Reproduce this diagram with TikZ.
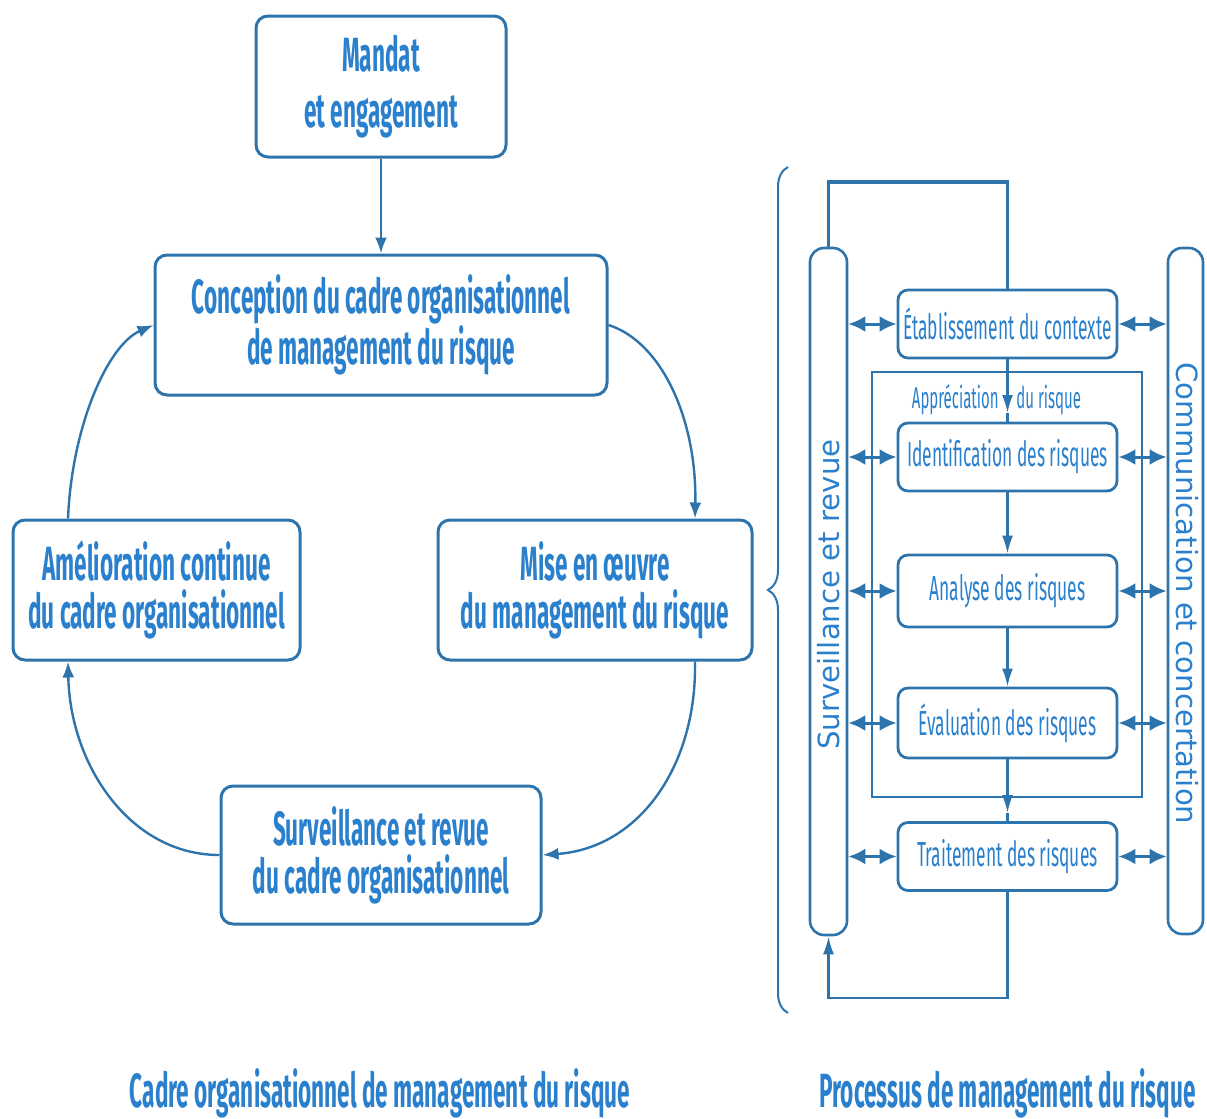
\documentclass[tikz,border=0pt]{standalone}
\usepackage{fontspec}
\setmainfont{Fira Sans}[FakeStretch=0.47]
\newfontfamily\stepfont{Fira Sans}[FakeStretch=0.5]
\newfontfamily\barfont{DejaVu Sans}
\usetikzlibrary{arrows.meta,decorations.pathreplacing,calc}
\definecolor{lineblue}{RGB}{46,116,172}
\definecolor{textblue}{RGB}{42,128,204}

\begin{document}
\begin{tikzpicture}[x=0.5pt,y=-0.5pt,
  bigbox/.style={draw=lineblue, line width=1.5pt, rounded corners=6pt, align=center,
    text=textblue, font=\bfseries\fontsize{24}{24}\selectfont, inner sep=0pt},
  stepbox/.style={draw=lineblue, line width=1.4pt, rounded corners=5pt,
    minimum width=109.5pt, minimum height=34pt, text=textblue,
    font=\stepfont\fontsize{17.4}{18}\selectfont, inner sep=0pt},
  barbox/.style={draw=lineblue, line width=1.3pt, rounded corners=7pt, inner sep=0pt},
  bartext/.style={text=textblue, font=\barfont\fontsize{14.6}{15}\selectfont, inner sep=0pt},
  smalllabel/.style={text=textblue, font=\stepfont\fontsize{15}{15}\selectfont, inner sep=0pt},
  cycle/.style={draw=lineblue, line width=1.2pt, -{Latex[length=8pt,width=6pt]}},
  flow/.style={draw=lineblue, line width=1.1pt, -{Latex[length=9pt,width=5.5pt]}},
  link/.style={draw=lineblue, line width=1.1pt},
  both/.style={draw=lineblue, line width=1.5pt,
    {Latex[length=8.5pt,width=8pt]}-{Latex[length=8.5pt,width=8pt]}},
  title/.style={text=textblue, font=\bfseries\fontsize{24}{24}\selectfont, inner sep=0pt}
]
\useasboundingbox (0,0) rectangle (1207,1119);

% ---- framework cycle ----
\node[bigbox, minimum width=125pt, minimum height=70.5pt] (mandat) at (381,86.5)
  {Mandat\\[4pt]et engagement};
\node[bigbox, minimum width=226pt, minimum height=70pt] (concep) at (381,325)
  {Conception du cadre organisationnel\\de management du risque};
\node[bigbox, minimum width=143.5pt, minimum height=70pt] (amelio) at (156.5,590)
  {Amélioration continue\\du cadre organisationnel};
\node[bigbox, minimum width=157pt, minimum height=70pt] (mise) at (595,590)
  {Mise en œuvre\\du management du risque};
\node[bigbox, minimum width=160pt, minimum height=69pt] (surv) at (381,855)
  {Surveillance et revue\\du cadre organisationnel};

\draw[cycle] (mandat.south) -- (concep.north);
\draw[cycle] (concep.east) .. controls (662,342) and (697,420) .. ($(mise.north)+(100,0)$);
\draw[cycle] ($(mise.south)+(100,0)$) .. controls (697,765) and (640,848) .. (surv.east);
\draw[cycle] (surv.west) .. controls (130,855) and (70,765) .. ($(amelio.south)+(-88.5,0)$);
\draw[cycle] ($(amelio.north)+(-88.5,0)$) .. controls (72,425) and (108,345) .. (concep.west);

% ---- brace ----
\coordinate (bracebot) at (788,1013);
\coordinate (bracetop) at (788,167);
\draw[lineblue, line width=1pt, decorate, decoration={brace, amplitude=10pt}] (bracebot) -- (bracetop);

% ---- risk management process ----
\node[barbox, minimum width=18.5pt, minimum height=343.5pt] (lbar) at (828.5,591.5) {};
\node[barbox, minimum width=17.5pt, minimum height=343pt] (rbar) at (1185.5,591) {};
\node[bartext, rotate=90] (ltext) at (828.5,594.5) {Surveillance et revue};
\node[bartext, rotate=-90] (rtext) at (1187,593.5) {Communication et concertation};

\node[draw=lineblue, line width=1.4pt, minimum width=135pt, minimum height=212.5pt, inner sep=0pt]
  (apprec) at (1007,584.5) {};

\node[stepbox] (etab) at (1007.5,324) {Établissement du contexte};
\node[stepbox] (ident) at (1007.5,457) {Identification des risques};
\node[stepbox, minimum height=36pt] (analyse) at (1007.5,591) {Analyse des risques};
\node[stepbox, minimum height=35pt] (eval) at (1007.5,723) {Évaluation des risques};
\node[stepbox] (trait) at (1007.5,856.5) {Traitement des risques};

\node[smalllabel, anchor=base east] (aplabel) at (999,408) {Appréciation};
\node[smalllabel, anchor=base west] (arlabel) at (1016,408) {du risque};

% vertical flow
\coordinate (m1) at (1007.5,413);
\coordinate (m4) at (1007.5,813);
\draw[flow] (etab.south) -- (m1);
\draw[link] (m1) -- (ident.north);
\draw[flow] (ident.south) -- (analyse.north);
\draw[flow] (analyse.south) -- (eval.north);
\draw[flow] (eval.south) -- (m4);
\draw[link] (m4) -- (trait.north);

% feedback loops
\coordinate (tl) at (828.5,182);
\coordinate (tr) at (1007.5,182);
\draw[link] (lbar.north) -- (tl);
\draw[link] (tr) -- (etab.north);
\draw[draw=lineblue, line width=2.4pt] ([xshift=-0.6pt]tl) -- ([xshift=0.6pt]tr);
\coordinate (bl) at (828.5,998);
\coordinate (br) at (1007.5,998);
\draw[flow] (trait.south) -- (br) -- (bl) -- (lbar.south);

% two-way links with the side bars
\foreach \n in {etab,ident,analyse,eval,trait}{
  \draw[both] (lbar.east |- \n.west) -- (\n.west);
  \draw[both] (\n.east) -- (rbar.west |- \n.east);
}

% ---- titles ----
\node[title, anchor=base] (t1) at (380,1107) {Cadre organisationnel de management du risque};
\node[title, anchor=base] (t2) at (1007.5,1107) {Processus de management du risque};
\end{tikzpicture}
\end{document}
